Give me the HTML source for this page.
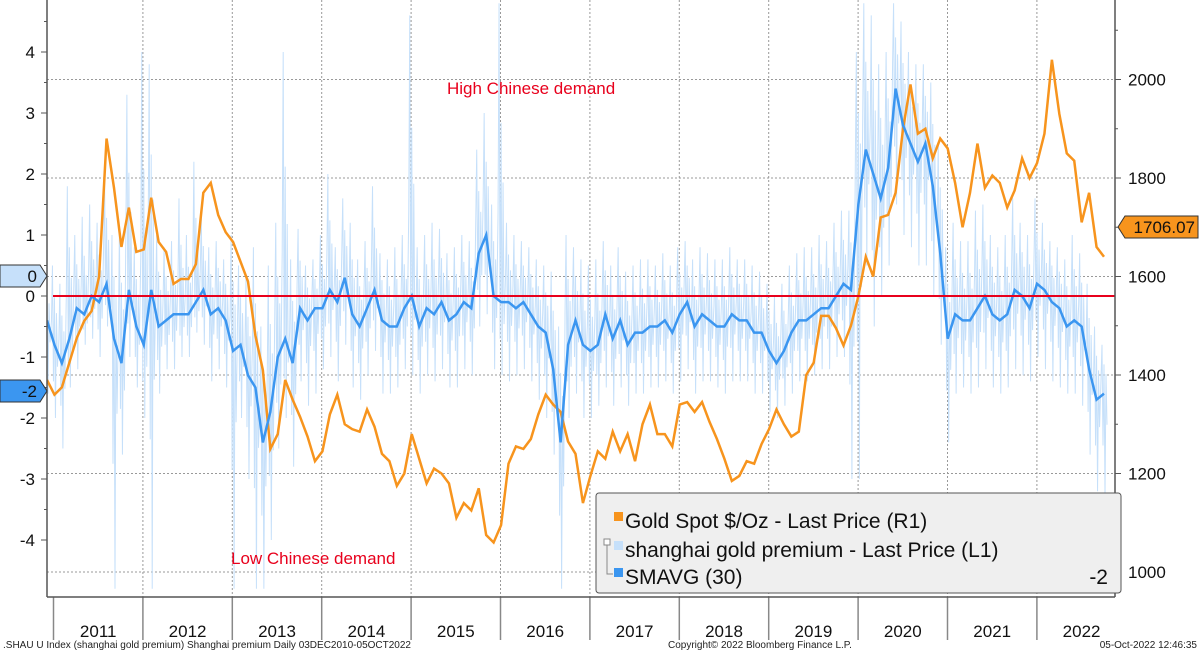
<!DOCTYPE html>
<html><head><meta charset="utf-8"><style>
body{margin:0;background:#fff;font-family:"Liberation Sans",sans-serif}
svg{display:block}
</style></head><body>
<svg width="1200" height="655" viewBox="0 0 1200 655" id="svg">
<defs><clipPath id="clip"><rect x="47" y="0" width="1068" height="597"/></clipPath></defs>
<g id="grid"></g>
<g id="series" clip-path="url(#clip)"></g>
<g id="axes"></g>
<text x="447" y="94" fill="#e8001c" font-size="17">High Chinese demand</text>
<text x="231" y="564" fill="#e8001c" font-size="17">Low Chinese demand</text>
<g>
<rect x="596" y="493" width="525" height="100" rx="3" fill="#efefef" stroke="#555" stroke-width="1"/>
<rect x="614" y="512" width="9" height="9" fill="#f7941d"/>
<text x="625" y="528" font-size="21" fill="#111">Gold Spot $/Oz - Last Price  (R1)</text>
<rect x="614" y="541" width="9" height="9" fill="#c6e0fa"/>
<text x="625" y="557" font-size="21" fill="#111">shanghai gold premium - Last Price  (L1)</text>
<rect x="614" y="568" width="9" height="9" fill="#3b96f0"/>
<text x="625" y="584" font-size="21" fill="#111">SMAVG (30)</text>
<text x="1108" y="584" font-size="21" fill="#111" text-anchor="end">-2</text>
<path d="M607 543 v31 h6" fill="none" stroke="#888"/>
<rect x="604" y="539" width="6" height="6" fill="#fff" stroke="#888"/>
</g>
<text x="3" y="648" font-size="10" fill="#222">.SHAU U Index (shanghai gold premium) Shanghai premium  Daily 03DEC2010-05OCT2022</text>
<text x="668" y="648" font-size="10" fill="#222">Copyright© 2022 Bloomberg Finance L.P.</text>
<text x="1197" y="648" font-size="10" fill="#222" text-anchor="end">05-Oct-2022 12:46:35</text>
</svg>
<script>
const years=["2011","2012","2013","2014","2015","2016","2017","2018","2019","2020","2021","2022"];
const leftTicks=[4,3,2,1,0,-1,-2,-3,-4];
const rightTicks=[2000,1800,1600,1400,1200,1000];
const gold=[1390,
1360,1375,1425,1475,1510,1530,1600,1880,1780,1660,1740,1650,
1655,1760,1670,1650,1585,1595,1595,1625,1770,1790,1725,1690,
1670,1630,1590,1480,1410,1250,1280,1390,1350,1315,1275,1225,
1245,1320,1360,1300,1290,1285,1330,1295,1240,1225,1175,1200,
1280,1230,1180,1210,1200,1180,1110,1140,1125,1170,1075,1060,
1095,1220,1255,1250,1270,1320,1360,1340,1325,1265,1240,1140,
1195,1245,1230,1285,1245,1280,1225,1300,1340,1280,1280,1255,
1340,1345,1325,1345,1305,1270,1230,1185,1195,1225,1220,1260,
1290,1330,1300,1275,1285,1400,1425,1520,1520,1495,1460,1500,
1560,1640,1600,1720,1725,1770,1900,1990,1890,1900,1840,1880,
1860,1790,1700,1770,1870,1780,1805,1790,1740,1775,1840,1800,
1830,1890,2040,1930,1850,1835,1710,1770,1660,1640];
const sma=[-0.4,
-0.8,-1.1,-0.7,-0.2,-0.3,0,-0.1,0.2,-0.7,-1.1,0.1,-0.5,
-0.8,0.1,-0.5,-0.4,-0.3,-0.3,-0.3,-0.1,0.1,-0.3,-0.2,-0.4,
-0.9,-0.8,-1.3,-1.5,-2.4,-1.9,-1.0,-0.7,-1.1,-0.2,-0.4,-0.2,
-0.2,0.1,-0.1,0.3,-0.3,-0.5,-0.2,0.1,-0.4,-0.5,-0.5,-0.2,
0.0,-0.5,-0.2,-0.3,-0.1,-0.4,-0.3,-0.1,-0.2,0.7,1.0,0.0,
-0.1,-0.1,-0.2,-0.1,-0.3,-0.5,-0.6,-1.2,-2.4,-0.8,-0.4,-0.8,
-0.9,-0.8,-0.3,-0.7,-0.4,-0.8,-0.6,-0.6,-0.5,-0.5,-0.4,-0.6,
-0.3,-0.1,-0.5,-0.3,-0.4,-0.5,-0.5,-0.3,-0.4,-0.4,-0.6,-0.6,
-0.9,-1.1,-0.9,-0.6,-0.4,-0.4,-0.3,-0.2,-0.2,0.0,0.2,0.1,
1.5,2.4,2.0,1.6,2.1,3.4,2.8,2.5,2.2,2.5,1.8,0.7,
-0.7,-0.3,-0.4,-0.4,-0.2,0.0,-0.3,-0.4,-0.3,0.1,0.0,-0.2,
0.2,0.1,-0.1,-0.2,-0.5,-0.4,-0.5,-1.2,-1.7,-1.6];
const premHi=[0.3,
0.5,0.2,1.8,1.0,1.3,1.5,1.2,2.0,1.0,1.1,3.3,0.8,
4.0,3.8,1.0,0.8,0.9,1.6,1.0,2.2,1.3,0.8,0.9,0.6,
1.0,0.5,0.3,0.8,-0.5,0.5,1.2,4.0,0.6,1.1,0.5,0.6,
1.0,2.0,0.8,1.6,1.2,0.6,0.9,1.8,0.7,0.6,0.8,1.0,
4.6,0.8,1.0,1.2,1.1,0.7,0.8,1.0,0.9,2.4,3.0,1.5,
4.8,1.2,1.0,0.9,0.8,0.6,0.5,0.4,-0.5,1.0,0.8,0.6,
0.5,0.6,0.9,0.5,0.8,0.4,0.5,0.6,0.6,0.5,0.7,0.5,
0.8,0.9,0.6,0.8,0.7,0.6,0.6,0.8,0.6,0.6,0.5,0.4,
0.2,0.0,0.2,0.5,0.7,0.8,0.8,1.0,0.9,1.2,1.4,1.4,
4.0,4.8,4.6,3.8,4.0,4.8,4.5,4.0,3.8,3.8,3.5,2.5,
0.8,1.2,0.9,0.9,1.4,1.5,1.0,0.8,1.0,1.6,1.2,1.0,
1.6,1.2,0.9,0.8,0.6,1.0,0.7,0.2,-0.5,-0.8];
const premLo=[-1.6,
-2.0,-2.5,-1.5,-1.2,-0.8,-0.7,-1.0,-0.5,-4.8,-2.6,-1.0,-1.5,
-2.0,-4.8,-1.6,-1.2,-1.2,-1.0,-1.0,-0.6,-0.8,-1.4,-1.2,-1.5,
-4.8,-2.0,-3.0,-4.8,-4.8,-4.0,-2.5,-2.0,-2.8,-1.4,-1.8,-1.6,
-1.2,-1.0,-1.4,-0.8,-1.5,-1.7,-1.3,-0.9,-1.6,-1.6,-1.5,-1.2,
-1.3,-1.6,-1.3,-1.4,-1.2,-1.5,-1.5,-1.2,-1.3,-0.5,-0.3,-1.2,
-1.3,-1.4,-1.3,-1.2,-1.4,-1.7,-2.0,-2.6,-4.8,-2.0,-1.6,-2.0,
-2.0,-1.8,-1.5,-1.8,-1.5,-1.8,-1.6,-1.6,-1.5,-1.5,-1.4,-1.6,
-1.4,-1.2,-1.6,-1.4,-1.4,-1.5,-1.6,-1.4,-1.4,-1.4,-1.6,-1.6,
-1.9,-2.0,-1.8,-1.6,-1.4,-1.4,-1.3,-1.2,-1.2,-1.0,-1.0,-3.0,
-3.0,0.5,-0.5,0.0,0.5,1.5,1.0,0.8,0.5,0.5,0.0,-0.8,
-2.4,-1.6,-1.5,-1.6,-1.5,-1.2,-1.5,-1.6,-1.5,-1.2,-1.3,-1.4,
-1.0,-1.2,-1.4,-1.5,-1.6,-1.6,-1.8,-2.6,-3.2,-3.3];

const NS="http://www.w3.org/2000/svg";
const X0=47,X1=1104,L=1115,B=597;
const yearStart=53.5,yearW=89.4;
function xIdx(i){return X0+i*(X1-X0)/(gold.length-1);}
function yL(v){return 296-v*61;}
function yR(v){return 572-(v-1000)*98.5/200;}
function mk(tag,attrs,parent){const e=document.createElementNS(NS,tag);for(const k in attrs)e.setAttribute(k,attrs[k]);parent.appendChild(e);return e;}
const grid=document.getElementById('grid'),ser=document.getElementById('series'),ax=document.getElementById('axes');

rightTicks.forEach(t=>{const l=mk('line',{x1:X0,x2:L,y1:yR(t),y2:yR(t),stroke:'#999','stroke-dasharray':'2,2'},grid);

});
years.forEach((y,k)=>{const x=yearStart+k*yearW;
if(k>0){const g=mk('line',{x1:x,x2:x,y1:0,y2:B,stroke:'#999','stroke-dasharray':'2,2'},grid);

}
const t=mk('line',{x1:x,x2:x,y1:B,y2:640,stroke:'#888','stroke-width':1.5},ax);


const tx=mk('text',{x:x+yearW/2,y:637,'font-size':17,'text-anchor':'middle',fill:'#111'},ax);tx.textContent=y;

});

// raw premium: dense spikes between each month's low and high
let d='';premHi.forEach((h,i)=>{const x=xIdx(i),lo=premLo[i],m=sma[i];
d+=(i?'L':'M')+(x-3)+' '+yL(m+0.3*(h-m))+'L'+(x-2)+' '+yL(h)+'L'+(x-1)+' '+yL(m+0.5*(lo-m))+'L'+x+' '+yL(m+0.6*(h-m))+'L'+(x+1)+' '+yL(lo)+'L'+(x+2)+' '+yL(m+0.4*(h-m))+'L'+(x+3)+' '+yL(m+0.3*(lo-m));});
const p1=mk('path',{d:d,fill:'none',stroke:'#c6e0fa','stroke-width':1},ser);


const p2=mk('path',{d:gold.map((v,i)=>(i?'L':'M')+xIdx(i)+' '+yR(v)).join(''),fill:'none',stroke:'#f7941d','stroke-width':2.5},ser);


const p3=mk('path',{d:sma.map((v,i)=>(i?'L':'M')+xIdx(i)+' '+yL(v)).join(''),fill:'none',stroke:'#3b96f0','stroke-width':2.5},ser);


const zl=mk('line',{x1:53,x2:L,y1:yL(0),y2:yL(0),stroke:'#e8001c','stroke-width':2},ser);



// axes
mk('line',{x1:X0,x2:X0,y1:0,y2:B,stroke:'#555','stroke-width':1.5},ax);
mk('line',{x1:L,x2:L,y1:0,y2:B,stroke:'#555','stroke-width':1.5},ax);
mk('line',{x1:X0,x2:L,y1:B,y2:B,stroke:'#555','stroke-width':1.5},ax);
leftTicks.forEach(t=>{mk('line',{x1:X0-6,x2:X0,y1:yL(t),y2:yL(t),stroke:'#555'},ax);
mk('line',{x1:X0-3,x2:X0,y1:yL(t+0.5),y2:yL(t+0.5),stroke:'#555'},ax);
const tx=mk('text',{x:35,y:yL(t)+6,'font-size':17,'text-anchor':'end',fill:'#111'},ax);tx.textContent=t;

});
rightTicks.forEach(t=>{mk('line',{x1:L,x2:L+6,y1:yR(t),y2:yR(t),stroke:'#555'},ax);
mk('line',{x1:L,x2:L+3,y1:yR(t+100),y2:yR(t+100),stroke:'#555'},ax);
const tx=mk('text',{x:1128,y:yR(t)+6,'font-size':17,fill:'#111'},ax);tx.textContent=t;

});
// tags
function tag(x,y,w,fill,txt,dir,name){const h=22;let pts;
if(dir==='r')pts=[[x,y-h/2],[x+w,y-h/2],[x+w+7,y],[x+w,y+h/2],[x,y+h/2]];else pts=[[x,y],[x+7,y-h/2],[x+w,y-h/2],[x+w,y+h/2],[x+7,y+h/2]];
const g=mk('g',{},ax);


mk('polygon',{points:pts.map(p=>p.join(',')).join(' '),fill:fill,stroke:'#333'},g);
const t=mk('text',{x:x+w-3,y:y+6,'font-size':17,'text-anchor':'end',fill:'#111'},g);t.textContent=txt;}
tag(0,276,40,'#c6e0fa','0','r','premium-last-tag');
tag(0,391,40,'#3b96f0','-2','r','smavg-last-tag');
tag(1118,227,80,'#f7941d','1706.07','l','gold-last-tag');
</script>
</body></html>
